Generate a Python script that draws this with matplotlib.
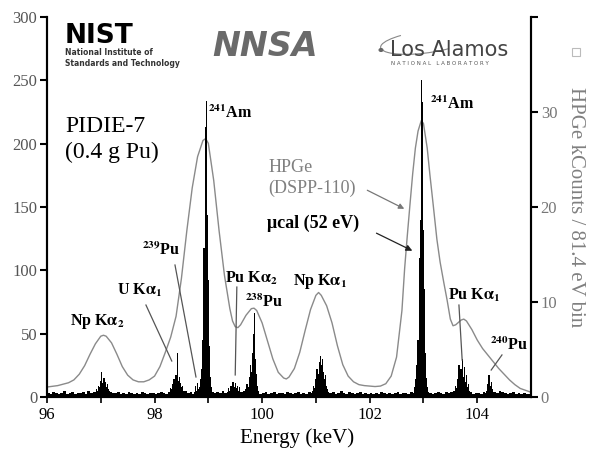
import matplotlib.pyplot as plt
from matplotlib.patches import Rectangle, Arc, Circle
import numpy as np

plt.rcParams['font.family'] = ['Liberation Serif', 'DejaVu Serif']
plt.rcParams['mathtext.fontset'] = 'stix'

# HPGe spectrum, grey curve (kCounts / 81.4 eV bin)
hpge_kev = [96.0, 96.2, 96.4, 96.5, 96.6, 96.7, 96.8, 96.9, 97.0, 97.05,
            97.1, 97.2, 97.3, 97.4, 97.5, 97.6, 97.7, 97.8, 97.9, 98.0,
            98.1, 98.2, 98.3, 98.4, 98.5, 98.6, 98.7, 98.8, 98.9, 98.95,
            99.0, 99.1, 99.2, 99.3, 99.4, 99.45, 99.5, 99.55, 99.6, 99.7,
            99.8, 99.85, 99.9, 100.0, 100.1, 100.2, 100.3, 100.4, 100.45, 100.5,
            100.6, 100.7, 100.8, 100.9, 101.0, 101.05, 101.1, 101.2, 101.3, 101.4,
            101.5, 101.6, 101.7, 101.8, 101.9, 102.0, 102.1, 102.2, 102.3, 102.4,
            102.5, 102.6, 102.65, 102.7, 102.75, 102.8, 102.85, 102.9, 102.96, 103.0,
            103.07, 103.12, 103.18, 103.25, 103.31, 103.38, 103.44, 103.5, 103.55, 103.6,
            103.7, 103.75, 103.8, 103.9, 104.0, 104.1, 104.2, 104.3, 104.4, 104.5,
            104.6, 104.7, 104.8, 104.9, 105.0]
hpge_kcounts = [1.05, 1.2, 1.5, 1.8, 2.4, 3.3, 4.5, 5.6, 6.4, 6.5,
                6.4, 5.7, 4.5, 3.2, 2.3, 1.8, 1.6, 1.6, 1.8, 2.2,
                3.2, 4.7, 6.3, 8.5, 12.5, 17.5, 22.0, 25.3, 27.0, 27.2,
                26.7, 22.8, 17.5, 12.8, 9.3, 8.0, 7.4, 7.3, 7.6, 8.6,
                9.3, 9.35, 9.1, 7.8, 5.9, 4.0, 2.6, 2.0, 1.9, 2.1,
                3.0, 4.7, 7.0, 9.2, 10.7, 11.0, 10.7, 9.6, 7.8, 5.4,
                3.4, 2.2, 1.6, 1.3, 1.2, 1.15, 1.1, 1.15, 1.4, 2.2,
                4.2, 9.1, 13.5, 17.0, 20.3, 23.5, 26.2, 28.0, 29.1, 28.8,
                26.2, 23.4, 20.3, 16.6, 14.2, 12.0, 10.2, 8.2, 7.5, 7.6,
                8.1, 8.2, 8.0, 7.1, 6.0, 5.1, 4.4, 3.7, 3.0, 2.4,
                1.8, 1.3, 0.9, 0.7, 0.5]

# microcalorimeter background, 50 eV bins starting at 96.0 keV
bg_start = 96.0
bg_step = 0.05
bg_counts = [3, 2, 4, 3, 2, 3, 5, 2, 3, 4, 2, 3, 3, 4, 2, 5, 3, 4, 3, 4,
             4, 3, 5, 4, 3, 3, 4, 2, 3, 2, 4, 3, 2, 3, 2, 4, 3, 2, 3, 3,
             2, 3, 4, 3, 2, 4, 3, 5, 3, 6, 4, 5, 3, 4, 2, 3, 6, 4, 3, 5,
             6, 4, 3, 4, 3, 5, 3, 4, 5, 4, 3, 2, 4, 5, 3, 4, 2, 3, 3, 2,
             3, 4, 2, 3, 4, 2, 3, 3, 2, 4, 3, 2, 3, 4, 2, 3, 2, 4, 3, 5,
             4, 6, 5, 3, 4, 3, 4, 2, 3, 5, 3, 2, 4, 3, 2, 3, 4, 2, 3, 2,
             3, 2, 3, 2, 4, 3, 2, 3, 2, 3, 4, 2, 3, 3, 2, 4, 3, 5, 4, 6,
             5, 4, 3, 2, 3, 4, 3, 2, 4, 3, 4, 5, 3, 6, 5, 4, 3, 4, 2, 3,
             3, 2, 4, 3, 2, 3, 4, 3, 5, 4, 3, 2, 3, 4, 2, 3, 2, 3, 2, 2]

# microcalorimeter peak clusters, 20 eV bins: first bin energy, counts
peak_step = 0.02
np_ka2 = (96.90, [4, 6, 5, 9, 8, 13, 20, 11, 15, 12, 8, 10, 6, 5, 4])
u_ka1 = (98.28, [4, 7, 6, 10, 14, 12, 17, 35, 13, 16, 11, 8, 9, 5, 4])
pu239 = (98.74, [4, 9, 5, 11, 6])
am241_a = (98.82, [5, 8, 14, 22, 45, 118, 213, 234, 144, 92, 40, 16, 8])
pu_ka2 = (99.36, [4, 7, 5, 9, 6, 12, 8, 11, 7, 9, 5, 8, 4])
pu238 = (99.70, [6, 10, 8, 16, 25, 20, 35, 50, 66, 30, 18, 9, 5])
np_ka1 = (100.94, [5, 9, 7, 14, 22, 18, 28, 32, 25, 30, 20, 14, 17, 9, 6, 4])
am241_b = (102.84, [8, 14, 25, 45, 110, 140, 250, 233, 132, 85, 35, 15, 8])
pu_ka1 = (103.58, [5, 9, 7, 14, 25, 18, 22, 30, 16, 24, 12, 17, 8, 10, 5])
pu240 = (104.18, [5, 10, 17, 9, 12, 6])
clusters = [np_ka2, u_ka1, pu239, am241_a, pu_ka2, pu238, np_ka1, am241_b, pu_ka1, pu240]

fig = plt.figure(figsize=(6.02, 4.5), dpi=100)
ax = fig.add_axes([47 / 602, 1 - 397 / 450, 484 / 602, 380 / 450])
ax2 = ax.twinx()

bg_e = bg_start + bg_step * np.arange(len(bg_counts))
ax.bar(bg_e, bg_counts, width=bg_step, align='edge', color='black', linewidth=0)
for start, counts in clusters:
    e = start + peak_step * np.arange(len(counts))
    ax.bar(e, counts, width=peak_step * 1.1, color='black', linewidth=0)

ax2.plot(hpge_kev, hpge_kcounts, color='#8a8a8a', lw=1.0)

ax.set_xlim(96, 105)
ax.set_ylim(0, 300)
ax2.set_ylim(0, 40)
ax.set_xticks([96, 98, 100, 102, 104])
ax.set_xticks([97, 99, 101, 103], minor=True)
ax.set_yticks(range(0, 301, 50))
ax2.set_yticks([0, 10, 20, 30, 40])
ax2.set_yticklabels(['0', '10', '20', '30', ''])

for a in (ax, ax2):
    a.spines['top'].set_visible(False)
    for s in ('left', 'right', 'bottom'):
        a.spines[s].set_linewidth(1.5)
ax.tick_params(axis='x', which='both', direction='out', length=4, width=1.2,
               labelsize=12, pad=3)
ax.tick_params(axis='y', direction='out', length=5, width=1.5,
               labelsize=12, labelcolor='#555555', pad=2)
ax2.tick_params(axis='y', direction='out', length=5, width=1.5,
                labelsize=12, labelcolor='#777777', pad=2)
ax2.set_ylabel('HPGe kCounts / 81.4 eV bin', rotation=270, fontsize=15,
               color='#808080', labelpad=20)
fig.text(297 / 602, 7 / 450, 'Energy (keV)', fontsize=15, ha='center', va='baseline')

ax.set_zorder(2)
ax.patch.set_visible(False)

# annotations
lab = dict(fontsize=11.5, fontweight='bold', va='baseline', ha='left')
ax.text(96.335, 209, 'PIDIE-7', fontsize=17, va='baseline')
ax.text(96.335, 189, '(0.4 g Pu)', fontsize=17, va='baseline')
ax.text(99.0, 220, r'$^{\mathbf{241}}$Am', **lab)
ax.text(103.12, 227, r'$^{\mathbf{241}}$Am', **lab)
ax.text(97.77, 112, r'$^{\mathbf{239}}$Pu', **lab)
ax.text(97.30, 80.5, r'U K$\mathbf{\alpha}_\mathbf{1}$', **lab)
ax.text(96.43, 56.8, r'Np K$\mathbf{\alpha}_\mathbf{2}$', **lab)
ax.text(99.31, 90, r'Pu K$\mathbf{\alpha}_\mathbf{2}$', **lab)
ax.text(99.68, 71, r'$^{\mathbf{238}}$Pu', **lab)
ax.text(100.57, 88.4, r'Np K$\mathbf{\alpha}_\mathbf{1}$', **lab)
ax.text(103.46, 76.6, r'Pu K$\mathbf{\alpha}_\mathbf{1}$', **lab)
ax.text(104.24, 37, r'$^{\mathbf{240}}$Pu', **lab)
ax.text(100.11, 177.6, 'HPGe', fontsize=13, color='#808080', va='baseline')
ax.text(100.11, 161, '(DSPP-110)', fontsize=13, color='#808080', va='baseline')
ax.text(100.09, 133.4, 'μcal (52 eV)', fontsize=13, fontweight='bold', va='baseline')

leader = dict(color='#555555', lw=0.9)
ax.plot([98.38, 98.77], [104.2, 15.8], **leader)
ax.plot([97.84, 98.32], [72.6, 28.4], **leader)
ax.plot([99.53, 99.50], [86.8, 17.4], **leader)
ax.plot([103.66, 103.72], [72.6, 29.2], **leader)
ax.plot([104.46, 104.26], [33.2, 21.3], **leader)
ax.annotate('', xy=(102.69, 147.6), xytext=(101.91, 164.2),
            arrowprops=dict(arrowstyle='-|>', color='#777777', lw=0.9, mutation_scale=8))
ax.annotate('', xy=(102.84, 114.5), xytext=(102.08, 130.3),
            arrowprops=dict(arrowstyle='-|>', color='#222222', lw=0.9, mutation_scale=9))

# logos along the top
fig.text(65 / 602, 1 - 43 / 450, 'NIST', fontsize=19, fontweight='bold',
         family='DejaVu Sans', va='baseline')
fig.text(65 / 602, 1 - 55 / 450, 'National Institute of', fontsize=5.5,
         fontweight='bold', family='DejaVu Sans', va='baseline', color='#333333')
fig.text(65 / 602, 1 - 66 / 450, 'Standards and Technology', fontsize=5.5,
         fontweight='bold', family='DejaVu Sans', va='baseline', color='#333333')
fig.text(212 / 602, 1 - 56 / 450, 'NNSA', fontsize=24, fontweight='bold',
         style='italic', family='DejaVu Sans', va='baseline', color='#6a6a6a')
fig.text(390 / 602, 1 - 56 / 450, 'Los Alamos', fontsize=15,
         family='DejaVu Sans', va='baseline', color='#444444')
fig.text(391 / 602, 1 - 65 / 450, 'N A T I O N A L   L A B O R A T O R Y', fontsize=4,
         family='DejaVu Sans', va='baseline', color='#555555')
fig.add_artist(Arc((425 / 602, 1 - 42 / 450), 90 / 602, 22 / 450, angle=10,
                   theta1=150, theta2=330, color='#888888', lw=0.8,
                   transform=fig.transFigure))
fig.add_artist(Circle((381 / 602, 1 - 50 / 450), 0.003, color='#666666',
                      transform=fig.transFigure))
fig.add_artist(Rectangle((572 / 602, 1 - 56 / 450), 8 / 602, 8 / 450, fill=False,
                         ec='#bbbbbb', lw=0.8, transform=fig.transFigure))

fig.savefig('out.png', dpi=100)
